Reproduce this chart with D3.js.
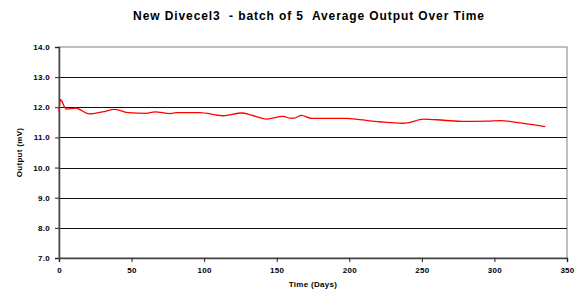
<!DOCTYPE html>
<html>
<head>
<meta charset="utf-8">
<script src="https://cdn.jsdelivr.net/npm/d3@7"></script>
<style>
  body { margin: 0; background: #fff; }
  text { font-family: "Liberation Sans", Arial, sans-serif; font-weight: bold; }
</style>
</head>
<body>
<svg id="chart" width="584" height="290"></svg>
<script>
// readings: day and average output (mV)
const days = [0, 1, 5, 12, 14.5, 21, 30, 38.5, 48, 60, 66, 76.5, 81, 97, 113, 126, 132,
  143, 154.5, 159, 162, 167, 174, 198, 207, 221, 237, 240, 251, 265, 279, 295, 304, 318, 335];
const output = [11.86, 12.25, 11.94, 11.97, 11.92, 11.78, 11.85, 11.93, 11.82, 11.80, 11.85, 11.79, 11.82, 11.82, 11.72, 11.81, 11.75,
  11.61, 11.70, 11.64, 11.64, 11.73, 11.63, 11.63, 11.59, 11.52, 11.47, 11.48, 11.61, 11.57, 11.53, 11.54, 11.56, 11.48, 11.36];
const xTicks = [0, 50, 100, 150, 200, 250, 300, 350];
const yTicks = [7, 8, 9, 10, 11, 12, 13, 14];

const svg = d3.select("#chart");
const margin = {left: 59, right: 17, top: 47, bottom: 32};
const width = 584, height = 290;

const x = d3.scaleLinear().domain([0, 350]).range([margin.left, width - margin.right]);
const y = d3.scaleLinear().domain([7, 14]).range([height - margin.bottom, margin.top]);

// title (double spaces kept as in the original)
svg.append("text")
  .attr("x", (x(0) + x(350)) / 2 - 4)
  .attr("y", 20)
  .attr("text-anchor", "middle")
  .attr("font-size", 12)
  .attr("letter-spacing", 0.9)
  .style("white-space", "pre")
  .text("New Divecel3  - batch of 5  Average Output Over Time");

// plot border
svg.append("rect")
  .attr("x", x(0)).attr("y", y(14))
  .attr("width", x(350) - x(0)).attr("height", y(7) - y(14))
  .attr("fill", "none").attr("stroke", "#808080").attr("stroke-width", 1);

// grid lines
svg.append("g")
  .selectAll("line")
  .data(yTicks.filter(d => d > 7 && d < 14))
  .join("line")
  .attr("x1", x(0)).attr("x2", x(350))
  .attr("y1", d => Math.round(y(d)) + 0.5).attr("y2", d => Math.round(y(d)) + 0.5)
  .attr("stroke", "#111").attr("stroke-width", 1);

// axes
const xAxis = svg.append("g")
  .attr("transform", `translate(0,${y(7)})`)
  .call(d3.axisBottom(x).tickValues(xTicks).tickSize(4).tickPadding(5).tickFormat(d3.format("d")));
const yAxis = svg.append("g")
  .attr("transform", `translate(${x(0)},0)`)
  .call(d3.axisLeft(y).tickValues(yTicks).tickSize(4).tickPadding(5).tickFormat(d3.format(".1f")));

[xAxis, yAxis].forEach(g => {
  g.selectAll("text").attr("font-size", 8).attr("letter-spacing", 0.3).attr("fill", "#000");
  g.select(".domain").attr("stroke", "#444").attr("stroke-width", 1.5);
  g.selectAll(".tick line").attr("stroke", "#222");
});

// axis titles
svg.append("text")
  .attr("x", (x(0) + x(350)) / 2)
  .attr("y", 287)
  .attr("text-anchor", "middle")
  .attr("font-size", 8)
  .attr("letter-spacing", 0.3)
  .text("Time (Days)");

svg.append("text")
  .attr("transform", `translate(22,${(y(7) + y(14)) / 2}) rotate(-90)`)
  .attr("text-anchor", "middle")
  .attr("font-size", 8)
  .attr("letter-spacing", 0.3)
  .text("Output (mV)");

// series line
const line = d3.line()
  .x((d, i) => x(days[i]))
  .y(d => y(d))
  .curve(d3.curveMonotoneX);

svg.append("path")
  .datum(output)
  .attr("d", line)
  .attr("fill", "none")
  .attr("stroke", "#ff0000")
  .attr("stroke-width", 1.3);
</script>
</body>
</html>
